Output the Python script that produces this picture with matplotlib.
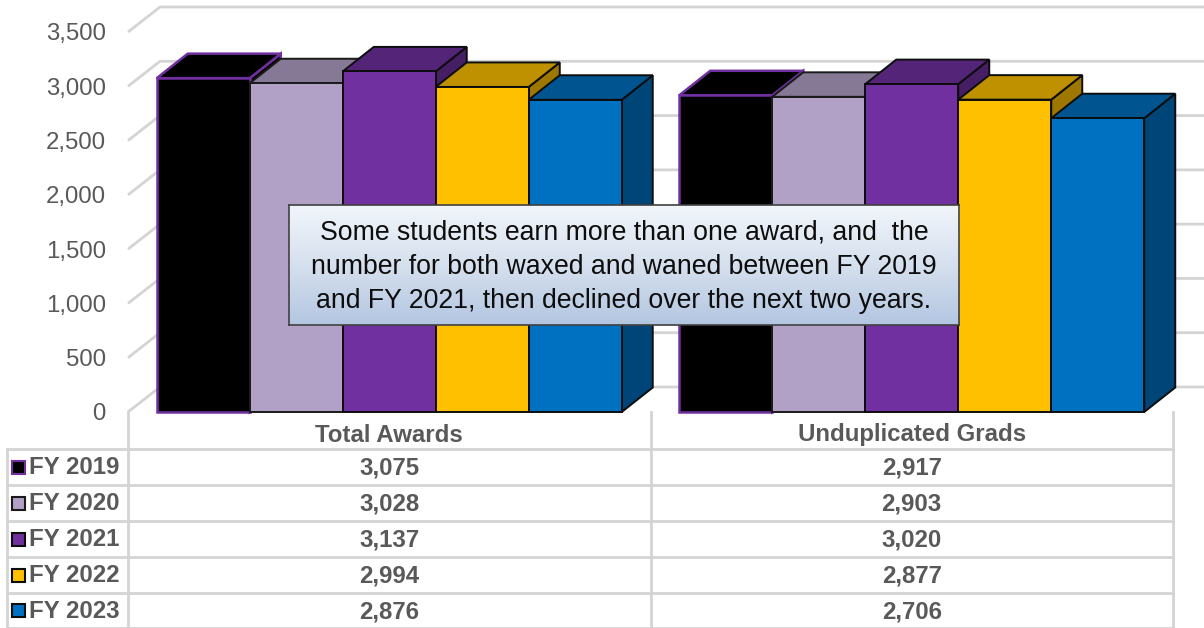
import matplotlib
matplotlib.use("Agg")
import matplotlib.pyplot as plt
import numpy as np
from matplotlib.patches import Rectangle, Polygon
from matplotlib.lines import Line2D

# ---------------- data ----------------
categories = ["Total Awards", "Unduplicated Grads"]
series_names = ["FY 2019", "FY 2020", "FY 2021", "FY 2022", "FY 2023"]
fy2019 = [3075, 2917]
fy2020 = [3028, 2903]
fy2021 = [3137, 3020]
fy2022 = [2994, 2877]
fy2023 = [2876, 2706]
series_values = [fy2019, fy2020, fy2021, fy2022, fy2023]
face_colors = ["#000000", "#b2a1c7", "#7030a0", "#ffc000", "#0070c0"]
edge_colors = ["#7030a0", "#1a1a1a", "#0d0d0d", "#0d0d0d", "#0d0d0d"]
y_ticks = [0, 500, 1000, 1500, 2000, 2500, 3000, 3500]
note = ("Some students earn more than one award, and  the\n"
        "number for both waxed and waned between FY 2019\n"
        "and FY 2021, then declined over the next two years.")

FONT = "Liberation Sans"
TXT = "#595959"
GRID = "#d4d4d4"

W, H = 1204, 628
fig = plt.figure(figsize=(W / 100, H / 100), dpi=100)
fig.patch.set_facecolor("white")

# main plot axes (front plane): x pixels 128..1173, y pixels 412..32
ax = fig.add_axes([128 / W, 1 - 412 / H, (1173 - 128) / W, (412 - 32) / H])
ax.set_xlim(0, len(categories))
ax.set_ylim(0, 3500)
for s in ax.spines.values():
    s.set_visible(False)
ax.set_xticks([])
ax.set_yticks(y_ticks)
ax.set_yticklabels([f"{v:,}" for v in y_ticks], fontsize=17.3, color=TXT, family=FONT)
ax.tick_params(axis="y", length=0, pad=16)
ax.patch.set_alpha(0)

px_x = (1173 - 128) / len(categories)     # pixels per x unit
px_y = 380 / 3500                          # pixels per y unit
wall_dx, wall_dy = 32 / px_x, 25 / px_y
bar_dx, bar_dy = 31 / px_x, 24.5 / px_y

# gridlines on side wall and back wall
for v in y_ticks:
    ax.plot([0, wall_dx, len(categories) + wall_dx], [v, v + wall_dy, v + wall_dy],
            color=GRID, lw=2, clip_on=False, zorder=0, solid_capstyle="butt")


def shade(c, f):
    r, g, b = matplotlib.colors.to_rgb(c)
    return (r * f, g * f, b * f)


n = len(series_names)
bw = 93 / px_x
for i, cat in enumerate(categories):
    for j in range(n):
        v = series_values[j][i]
        x0 = i + 0.5 - n / 2 * bw + j * bw
        fc = face_colors[j]
        ec = edge_colors[j]
        lw = 1.8 if j == 0 else 1.4
        z = 2 + i * 10 + j
        side = Polygon([(x0 + bw, 0), (x0 + bw + bar_dx, bar_dy), (x0 + bw + bar_dx, v + bar_dy), (x0 + bw, v)],
                       closed=True, facecolor=shade(fc, 0.62), edgecolor=ec, lw=lw, zorder=z,
                       clip_on=False, joinstyle="miter")
        top = Polygon([(x0, v), (x0 + bw, v), (x0 + bw + bar_dx, v + bar_dy), (x0 + bar_dx, v + bar_dy)],
                      closed=True, facecolor=shade(fc, 0.75), edgecolor=ec, lw=lw, zorder=z,
                      clip_on=False, joinstyle="miter")
        front = Rectangle((x0, 0), bw, v, facecolor=fc, edgecolor=ec, lw=lw, zorder=z,
                          clip_on=False, joinstyle="miter")
        ax.add_patch(side)
        ax.add_patch(top)
        ax.add_patch(front)

# ---------------- data table ----------------
tb = fig.add_axes([0, 0, 1, 1])
tb.set_xlim(0, W)
tb.set_ylim(H, 0)
tb.axis("off")
tb.patch.set_alpha(0)

row_lines = [449, 485, 521, 557, 593, 628]
col_lines = [128, 651, 1173]
for y in row_lines:
    tb.add_line(Line2D([7, 1173], [y, y], color=GRID, lw=2))
for x in col_lines:
    tb.add_line(Line2D([x, x], [412, 628], color=GRID, lw=2))
tb.add_line(Line2D([7, 7], [449, 628], color=GRID, lw=2))

TS = 17.3
# header
for i, cat in enumerate(categories):
    cx = 128 + (i + 0.5) * px_x
    tb.text(cx, 435, cat, ha="center", va="center", fontsize=TS, fontweight="bold",
            color=TXT, family=FONT)

for j, name in enumerate(series_names):
    cy = (row_lines[j] + row_lines[j + 1]) / 2
    tb.add_patch(Rectangle((12, cy - 6.5), 13, 13, facecolor=face_colors[j],
                           edgecolor=edge_colors[j], lw=1.5))
    tb.text(29, cy + 1, name, ha="left", va="center", fontsize=TS, fontweight="bold",
            color=TXT, family=FONT)
    for i in range(len(categories)):
        cx = 128 + (i + 0.5) * px_x
        tb.text(cx, cy + 1, f"{series_values[j][i]:,}", ha="center", va="center",
                fontsize=TS, fontweight="bold", color=TXT, family=FONT)

# ---------------- annotation box ----------------
bx0, bx1, by0, by1 = 289, 959, 205, 325
bax = fig.add_axes([bx0 / W, 1 - by1 / H, (bx1 - bx0) / W, (by1 - by0) / H], zorder=50)
top_c = np.array(matplotlib.colors.to_rgb("#f2f6fb"))
mid_c = np.array(matplotlib.colors.to_rgb("#d6e0ee"))
bot_c = np.array(matplotlib.colors.to_rgb("#b3c6e1"))
t = np.linspace(0, 1, 200)[:, None]
grad = np.where(t < 0.5, top_c + (mid_c - top_c) * (t / 0.5), mid_c + (bot_c - mid_c) * ((t - 0.5) / 0.5))
bax.imshow(grad[:, None, :], aspect="auto", extent=[0, 1, 0, 1], origin="upper")
bax.set_xlim(0, 1)
bax.set_ylim(0, 1)
bax.set_xticks([])
bax.set_yticks([])
for s in bax.spines.values():
    s.set_color("#404040")
    s.set_linewidth(1.2)
bax.text(0.5, 0.483, note, ha="center", va="center", fontsize=19.2, color="#0d0d0d",
         family=FONT, linespacing=1.42, transform=bax.transAxes)

fig.savefig("out.png", dpi=100)
